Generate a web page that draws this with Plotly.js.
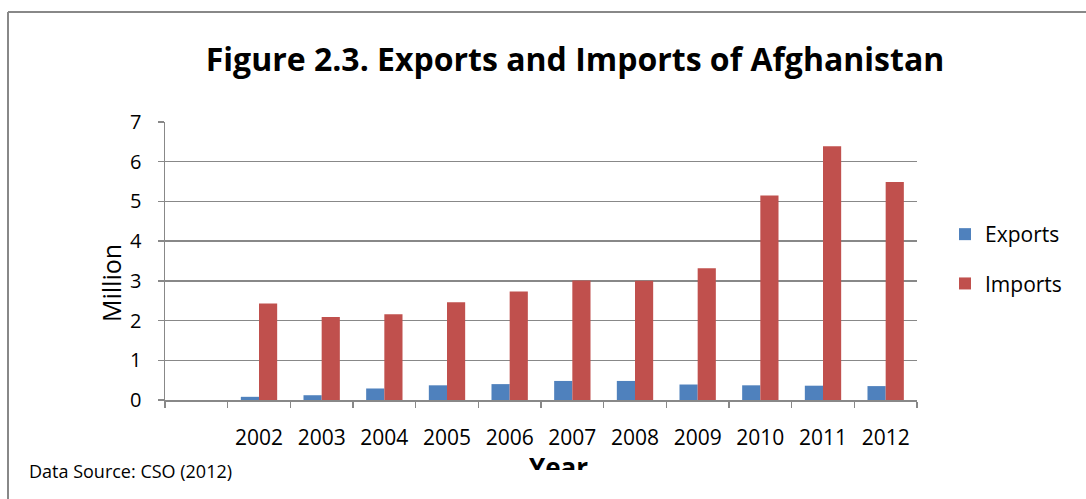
<!DOCTYPE html>
<html>
<head>
<meta charset="utf-8">
<script src="https://cdn.plot.ly/plotly-3.0.1.min.js"></script>
<style>html,body{margin:0;padding:0;background:#fff;}#chart{width:1086px;height:499px;}</style>
</head>
<body>
<div id="chart"></div>
<script>
// Data
const categories = [' ', '2002', '2003', '2004', '2005', '2006', '2007', '2008', '2009', '2010', '2011', '2012'];
const years = ['2002', '2003', '2004', '2005', '2006', '2007', '2008', '2009', '2010', '2011', '2012'];
const exportsVals = [0.08, 0.12, 0.29, 0.37, 0.40, 0.48, 0.48, 0.39, 0.37, 0.36, 0.35];
const importsVals = [2.43, 2.09, 2.16, 2.46, 2.73, 3.01, 3.00, 3.32, 5.15, 6.39, 5.49];
const seriesNames = ['Exports', 'Imports'];

const FONT = 'Open Sans, Noto Sans, sans-serif';
const GRID = '#888888';

const traces = [
  {type: 'bar', name: seriesNames[0], x: years, y: exportsVals, marker: {color: '#4F81BD'}, legendgroup: 'a'},
  {type: 'bar', name: seriesNames[1], x: years, y: importsVals, marker: {color: '#C0504D'}, legendgroup: 'b'}
];

const L = 165, R = 917, T = 122, B = 400;
const pw = R - L, ph = B - T;
const px = v => (v - L) / pw;
const py = v => (B - v) / ph;

const layout = {
  width: 1086, height: 499,
  margin: {l: L, r: 1086 - R, t: T, b: 499 - B, pad: 0},
  paper_bgcolor: '#ffffff', plot_bgcolor: '#ffffff',
  font: {family: FONT, color: '#000000', size: 20},
  title: {text: '<b>Figure 2.3. Exports and Imports of Afghanistan</b>', font: {family: FONT, size: 32, color: '#000'},
          xref: 'container', yref: 'container', x: 575 / 1086, xanchor: 'center', y: 1 - 60 / 499, yanchor: 'middle'},
  barmode: 'group', bargap: 0.42, bargroupgap: 0,
  showlegend: true,
  legend: {x: px(945), xanchor: 'left', y: py(214), yanchor: 'top', font: {family: FONT, size: 21, color: '#000'},
           traceorder: 'grouped', tracegroupgap: 19, bgcolor: 'rgba(0,0,0,0)'},
  xaxis: {type: 'category', categoryorder: 'array', categoryarray: categories, range: [-0.5, 11.5],
          showgrid: false, showline: true, linecolor: GRID, linewidth: 1.5,
          ticks: 'outside', tickson: 'boundaries', ticklen: 6, tickcolor: GRID, tickwidth: 1.5,
          ticklabelstandoff: 18, tickfont: {family: FONT, size: 21, color: '#000'}, fixedrange: true},
  yaxis: {range: [0, 7], dtick: 1, tick0: 0, showgrid: true, gridcolor: GRID, gridwidth: 1.5,
          showline: true, linecolor: GRID, linewidth: 1.5, zeroline: false,
          ticks: 'outside', ticklen: 6, tickcolor: GRID, tickwidth: 1.5, ticklabelstandoff: 12,
          tickfont: {family: FONT, size: 20, color: '#000'}, fixedrange: true},
  shapes: [
    {type: 'line', xref: 'paper', yref: 'paper', x0: px(8), x1: px(8), y0: py(12), y1: py(520), line: {color: '#888888', width: 2}},
    {type: 'line', xref: 'paper', yref: 'paper', x0: px(8), x1: px(1100), y0: py(12), y1: py(12), line: {color: '#888888', width: 2}}
  ],
  annotations: [
    {text: 'Million', xref: 'paper', yref: 'paper', x: px(111), y: py(283), xanchor: 'center', yanchor: 'middle',
     textangle: -90, showarrow: false, font: {family: FONT, size: 25, color: '#000'}},
    {text: 'Data Source: CSO (2012)', xref: 'paper', yref: 'paper', x: px(27), y: py(471), xanchor: 'left', yanchor: 'middle',
     showarrow: false, font: {family: FONT, size: 18, color: '#000'}},
    {text: '<b>Year</b>', xref: 'paper', yref: 'paper', x: px(558), y: py(447), xanchor: 'center', yanchor: 'top',
     height: 21, valign: 'top', showarrow: false, font: {family: FONT, size: 26, color: '#000'}}
  ]
};

Plotly.newPlot('chart', traces, layout, {displayModeBar: false, staticPlot: true});
</script>
</body>
</html>
